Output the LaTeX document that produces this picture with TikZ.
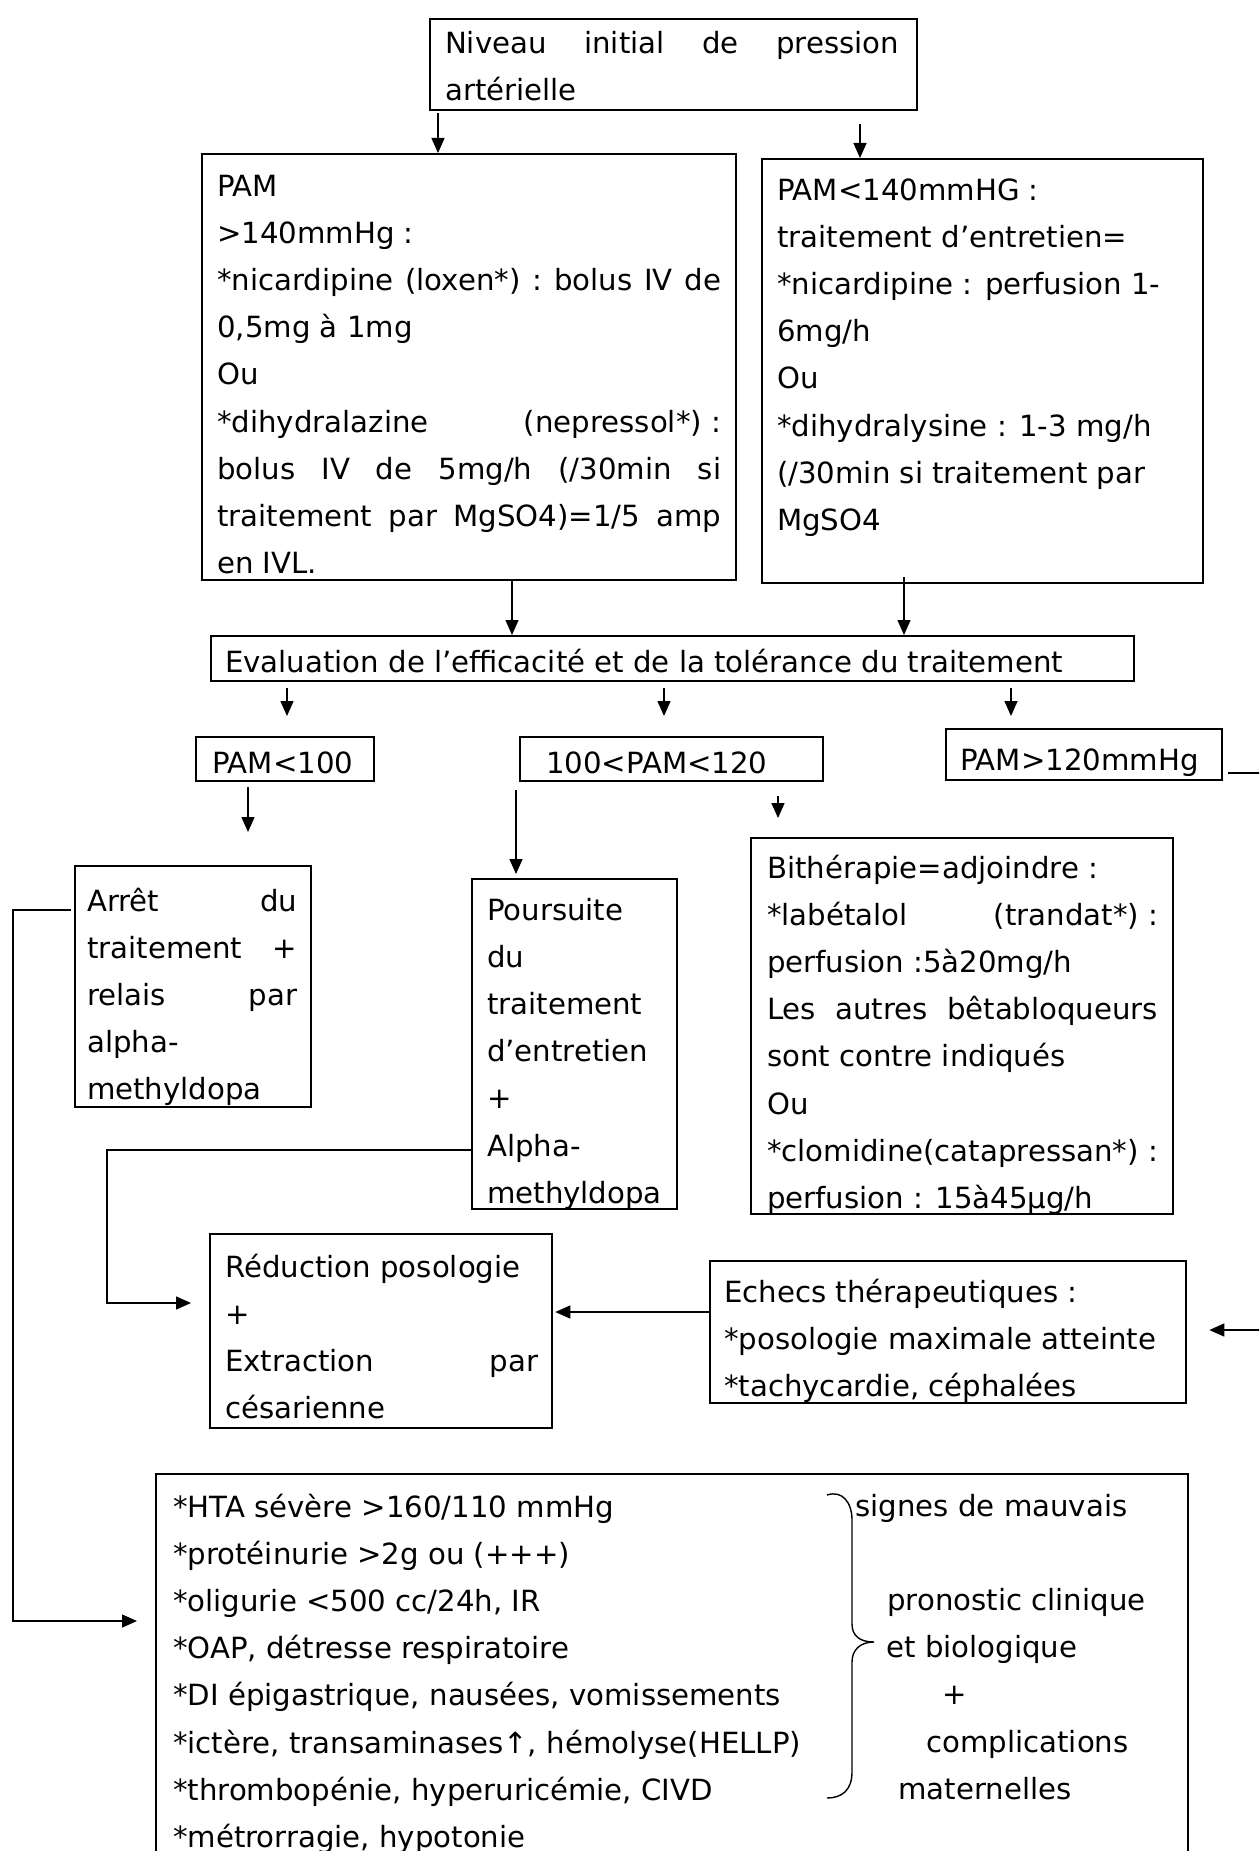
\documentclass[tikz,border=0pt]{standalone}
\usepackage{fontspec}
\setmainfont{DejaVu Sans}
\usetikzlibrary{arrows.meta,calc}
\newdimen\px \px=0.5pt
\newcommand\bt[6]{\hspace*{#1\px}\parbox[c][#4\px][t]{#2\px}{\rule{0pt}{#5\px}#6}\hspace*{#3\px}}
\newcommand\nl{\\\relax}
\tikzset{
  boxst/.style={draw, line width=1.15pt, inner sep=0pt, anchor=north west},
  conn/.style={line width=0.7pt},
  arr/.style={conn, -{Triangle[length=7.5pt,width=6.5pt]}},
  side/.style={anchor=base west, inner sep=0pt}
}
\begin{document}
\begin{tikzpicture}[x=0.5pt, y=-0.5pt, font=\fontsize{14.6}{23.6}\selectfont]
\useasboundingbox (0,0) rectangle (1259,1851);
\clip (0,0) rectangle (1259,1851);

\node[boxst] (A) at (429,18) {\bt{15}{454}{18}{91}{34}{Niveau\hfill initial\hfill de\hfill pression\nl art\'erielle}};

\node[boxst] (B) at (201,153) {\bt{15}{504}{15}{426}{42}{PAM\nl
>140mmHg :\nl
*nicardipine\hfill (loxen*)\hfill :\hfill bolus\hfill IV\hfill de\nl
0,5mg à 1mg\nl
Ou\nl
*dihydralazine\hfill (nepressol*) :\nl
bolus\hfill IV\hfill de\hfill 5mg/h\hfill (/30min\hfill si\nl
traitement\hfill par\hfill MgSO4)=1/5\hfill amp\nl
en IVL.}};

\node[boxst] (C) at (761,158) {\bt{15}{411}{15}{424}{41}{PAM<140mmHG :\nl
traitement d’entretien=\nl
*nicardipine : perfusion 1-\nl
6mg/h\nl
Ou\nl
*dihydralysine : 1-3 mg/h\nl
(/30min si traitement par\nl
MgSO4}};

\node[boxst] (D) at (210,635) {\bt{14}{900}{9}{45}{36}{Evaluation de l’efficacité et de la tolérance du traitement}};

\node[boxst] (E) at (195,736) {\bt{16}{160}{2}{44}{36}{PAM<100}};
\node[boxst] (F) at (519,736) {\bt{26}{275}{2}{44}{36}{100<PAM<120}};
\node[boxst] (G) at (945,728) {\bt{14}{260}{2}{51}{41}{PAM>120mmHg}};

\node[boxst] (H) at (74,865) {\bt{12}{210}{14}{241}{45}{Arrêt\hfill du\nl
traitement\hfill +\nl
relais\hfill par\nl
alpha-\nl
methyldopa}};

\node[boxst] (I) at (471,878) {\bt{15}{188}{2}{330}{41}{Poursuite\nl
du\nl
traitement\nl
d’entretien\nl
+\nl
Alpha-\nl
methyldopa}};

\node[boxst] (J) at (750,837) {\bt{16}{391}{15}{376}{40}{Bithérapie=adjoindre :\nl
*labétalol\hfill (trandat*) :\nl
perfusion :5à20mg/h\nl
Les\hfill autres\hfill bêtabloqueurs\nl
sont contre indiqués\nl
Ou\nl
*clomidine(catapressan*) :\nl
perfusion : 15à45µg/h}};

\node[boxst] (K) at (209,1233) {\bt{15}{313}{14}{194}{43}{Réduction posologie\nl
+\nl
Extraction\hfill par\nl
césarienne}};

\node[boxst] (L) at (709,1260) {\bt{14}{460}{2}{142}{41}{Echecs thérapeutiques :\nl
*posologie maximale atteinte\nl
*tachycardie, céphalées}};

\node[boxst] (M) at (155,1473) {\bt{17}{1013}{2}{400}{43}{*HTA sévère >160/110 mmHg\nl
*protéinurie >2g ou (+++)\nl
*oligurie <500 cc/24h, IR\nl
*OAP, détresse respiratoire\nl
*DI épigastrique, nausées, vomissements\nl
*ictère, transaminases↑, hémolyse(HELLP)\nl
*thrombopénie, hyperuricémie, CIVD\nl
*métrorragie, hypotonie}};

\node[side] (s1) at (855,1516) {signes de mauvais};
\node[side] (s2) at (887,1610.4) {pronostic clinique};
\node[side] (s3) at (886,1657.6) {et biologique};
\node[side] (s4) at (942,1704.8) {+};
\node[side] (s5) at (926,1752) {complications};
\node[side] (s6) at (898,1799.2) {maternelles};

% brace
\draw[conn] (827,1495) .. controls (842,1490) and (852,1502) .. (852,1520)
  -- (852,1624) .. controls (852,1636) and (860,1642) .. (874,1642)
  .. controls (860,1642) and (852,1650) .. (852,1662)
  -- (852,1772) .. controls (852,1790) and (842,1798) .. (827,1798);

% connectors
\draw[arr] ($(438,0 |- A.south)+(0,2)$) -- (438,0 |- B.north);
\draw[arr] ($(860,0 |- A.south)+(0,13)$) -- (860,0 |- C.north);
\draw[arr] (512,0 |- B.south) -- (512,0 |- D.north);
\draw[arr] ($(904,0 |- C.south)+(0,-7)$) -- (904,0 |- D.north);
\draw[arr] ($(287,0 |- D.south)+(0,6)$) -- ($(287,0 |- E.north)+(0,-20)$);
\draw[arr] ($(664,0 |- D.south)+(0,6)$) -- ($(664,0 |- F.north)+(0,-20)$);
\draw[arr] ($(1011,0 |- D.south)+(0,6)$) -- ($(1011,0 |- G.north)+(0,-12)$);
\draw[arr] ($(248,0 |- E.south)+(0,5)$) -- ($(248,0 |- H.north)+(0,-33)$);
\draw[arr] ($(516,0 |- F.south)+(0,8)$) -- ($(516,0 |- I.north)+(0,-4)$);
\draw[arr] ($(778,0 |- F.south)+(0,14)$) -- ($(778,0 |- J.north)+(0,-19)$);

\draw[arr] ($(H.west |- 0,910)+(-3,0)$) -- (13,910) -- (13,1621) -- ($(M.west |- 0,1621)+(-18,0)$);
\draw[arr] (I.west |- 0,1150) -- (107,1150) -- (107,1303) -- ($(K.west |- 0,1303)+(-18,0)$);
\draw[arr] (L.west |- 0,1312) -- ($(K.east |- 0,1312)+(2,0)$);

\coordinate (offA) at (1262,773);
\coordinate (offB) at (1262,1330);
\draw[conn] ($(G.east |- 0,773)+(5,0)$) -- (offA);
\draw[arr] (offB) -- ($(L.east |- 0,1330)+(22,0)$);
\end{tikzpicture}
\end{document}
